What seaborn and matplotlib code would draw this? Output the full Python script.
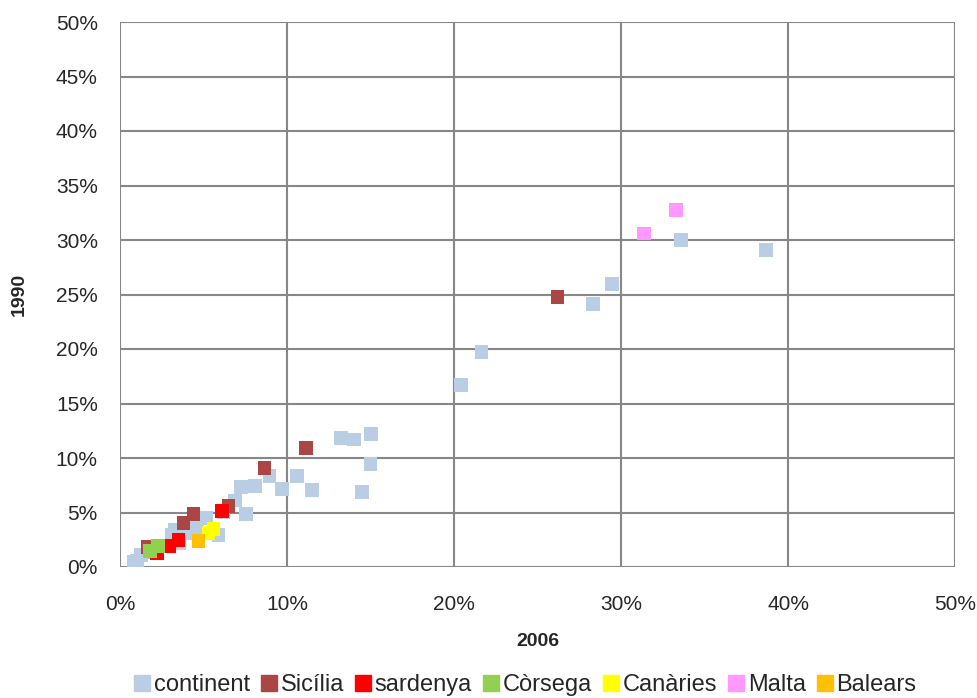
import matplotlib
matplotlib.use("Agg")
import matplotlib.pyplot as plt
import seaborn as sns
import pandas as pd
from matplotlib.ticker import MultipleLocator, PercentFormatter

# valors en % (2006, 1990)
continent_x = [33.6, 38.7, 29.45, 28.3, 21.65, 20.4, 13.25, 14.0, 15.05, 15.0, 10.6, 11.5,
               14.5, 9.7, 8.95, 7.25, 8.1, 6.9, 7.55, 6.2, 5.9, 5.15, 4.6, 3.1, 3.55, 2.1,
               1.25, 0.85, 1.0, 3.3, 4.0]
continent_y = [30.0, 29.1, 26.0, 24.1, 19.7, 16.7, 11.8, 11.7, 12.2, 9.45, 8.35, 7.06,
               6.9, 7.15, 8.35, 7.35, 7.45, 6.1, 4.85, 5.0, 2.9, 4.5, 3.55, 2.9, 2.2, 1.4,
               1.1, 0.45, 0.6, 3.4, 3.1]
sicilia_x = [26.2, 11.15, 8.65, 6.5, 4.4, 3.8, 1.7]
sicilia_y = [24.8, 10.9, 9.1, 5.6, 4.9, 4.05, 1.8]
sardenya_x = [6.1, 3.5, 2.95, 2.2]
sardenya_y = [5.15, 2.5, 1.95, 1.3]
corsega_x = [2.3, 1.8]
corsega_y = [1.9, 1.45]
canaries_x = [5.6, 5.3]
canaries_y = [3.5, 3.1]
malta_x = [33.3, 31.4]
malta_y = [32.75, 30.6]
balears_x = [4.7]
balears_y = [2.4]

grups = ["continent", "Sicília", "sardenya", "Còrsega", "Canàries", "Malta", "Balears"]
colors = ["#B9CDE5", "#AA4643", "#FF0000", "#92D050", "#FFFF00", "#FF99FF", "#FFC000"]
xs = [continent_x, sicilia_x, sardenya_x, corsega_x, canaries_x, malta_x, balears_x]
ys = [continent_y, sicilia_y, sardenya_y, corsega_y, canaries_y, malta_y, balears_y]

df = pd.concat([pd.DataFrame({"x": x, "y": y, "grup": g}) for g, x, y in zip(grups, xs, ys)],
               ignore_index=True)

sns.set_style("white")
plt.rcParams["font.family"] = ["Liberation Sans Narrow", "Liberation Sans", "DejaVu Sans"]

fig = plt.figure(figsize=(9.78, 6.98), dpi=100)
ax = fig.add_axes([120 / 978, 1 - 567 / 698, 835 / 978, 545 / 698])

sns.scatterplot(data=df, x="x", y="y", hue="grup", hue_order=grups,
                palette=dict(zip(grups, colors)), marker="s", s=100,
                linewidth=0, ax=ax, legend=False, zorder=3)

ax.set_xlim(0, 50)
ax.set_ylim(0, 50)
ax.xaxis.set_major_locator(MultipleLocator(10))
ax.yaxis.set_major_locator(MultipleLocator(5))
ax.xaxis.set_major_formatter(PercentFormatter(decimals=0))
ax.yaxis.set_major_formatter(PercentFormatter(decimals=0))
ax.grid(True, color="#878787", linewidth=1.5)
for sp in ax.spines.values():
    sp.set_visible(False)
ax.tick_params(labelsize=15, length=0)
ax.tick_params(axis="y", pad=16)
ax.tick_params(axis="x", pad=20)
ax.set_xlabel("2006", fontsize=14, fontweight="bold", labelpad=14)
ax.set_ylabel("1990", fontsize=14, fontweight="bold", labelpad=20)

handles = [plt.Line2D([], [], marker="s", linestyle="", color=c, markersize=11) for c in colors]
fig.legend(handles, grups, loc="center", bbox_to_anchor=(0.535, 1 - 685 / 698), ncol=7,
           frameon=False, fontsize=17, handletextpad=0.0, columnspacing=0.3,
           handlelength=1.0, borderaxespad=0)

fig.savefig("out.png", dpi=100)
